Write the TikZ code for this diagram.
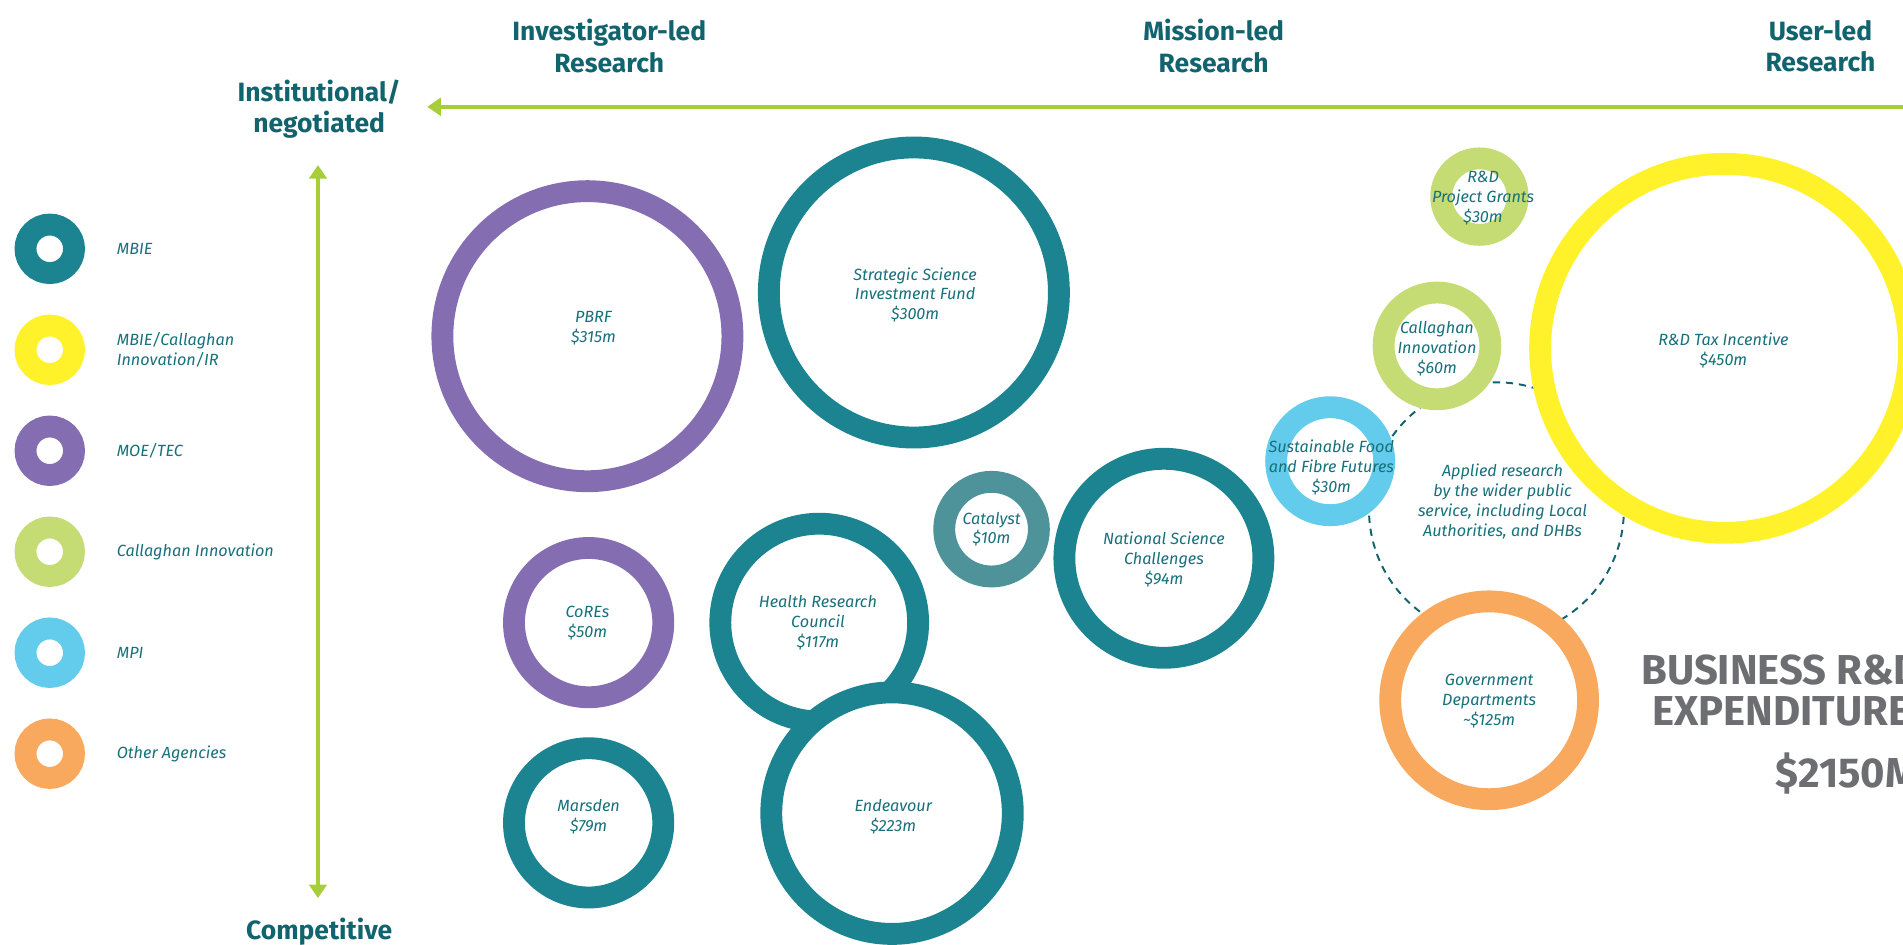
\documentclass[tikz,border=0pt]{standalone}
\usepackage{fontspec}
\setmainfont{Fira Sans}
\usetikzlibrary{arrows.meta}
\usetikzlibrary{positioning}
\definecolor{mbie}{HTML}{1B8490}
\definecolor{catal}{HTML}{4E929A}
\definecolor{mbiecal}{HTML}{FFF22A}
\definecolor{moetec}{HTML}{846EB1}
\definecolor{callag}{HTML}{C5DC75}
\definecolor{mpi}{HTML}{63CBEB}
\definecolor{other}{HTML}{F9A95E}
\definecolor{axisgreen}{HTML}{A7CE3A}
\definecolor{headteal}{HTML}{11636E}
\definecolor{labteal}{HTML}{17707B}
\definecolor{bizgray}{HTML}{6D6E71}
\tikzset {
  % funding ring, #1 = agency colour
  ring/.style = {
    circle,
    draw = #1,
    fill = white,
    line width = 4.5mm,
    inner sep = 0
  },
  % small legend ring
  legring/.style = {
    ring = #1,
    minimum size = 10mm
  },
  % text inside a ring
  fund/.style = {
    font = \fontsize{9.5}{11.7}\selectfont\itshape,
    text = labteal,
    align = center,
    inner sep = 0
  },
  legtext/.style = {
    fund,
    align = left
  },
  % axis headings
  head/.style = {
    font = \fontsize{15.5}{18.5}\selectfont\bfseries,
    text = headteal,
    align = center,
    inner sep = 0
  },
  biz/.style = {
    font = \fontsize{24.5}{24}\selectfont\bfseries,
    text = bizgray,
    align = center,
    inner sep = 0
  },
  axis/.style = {
    draw = axisgreen,
    line width = 0.75mm,
    arrows = {Triangle[width=3.6mm,length=2.8mm]-Triangle[width=3.6mm,length=2.8mm]}
  },
  applied/.style = {
    circle,
    draw = headteal,
    dash pattern = on 1.5mm off 1.2mm,
    line width = 0.4mm,
    inner sep = 0
  },
  node distance = 6.3mm
}
\begin{document}
\begin{tikzpicture}[x=0.25mm, y=-0.25mm]
  \useasboundingbox (0,0) rectangle (1568,778);
  \clip (0,0) rectangle (1568,778);

  % headings
  \node[head] (inv) at (502,38) {Investigator-led\\Research};
  \node[head] (mis) at (1000,38) {Mission-led\\Research};
  \node[head] (usr) at (1500,38) {User-led\\Research};
  \node[head] (inst) at (263,90) {Institutional/\\negotiated};
  \node[head] (comp) at (263,768) {Competitive};

  % axes
  \coordinate (hfrom) at (1590,88);
  \coordinate (hto) at (352,88);
  \coordinate (vtop) at (262,136);
  \coordinate (vbot) at (262,740);
  \draw[axis, arrows = {-Triangle[width=3.6mm,length=2.8mm]}] (hfrom) -- (hto);
  \draw[axis] (vtop) -- (vbot);

  % legend
  \node[legring=mbie] (lmbie) at (41,205) {};
  \node[legring=mbiecal] (lmcal) [below=of lmbie] {};
  \node[legring=moetec] (lmoe) [below=of lmcal] {};
  \node[legring=callag] (lcal) [below=of lmoe] {};
  \node[legring=mpi] (lmpi) [below=of lcal] {};
  \node[legring=other] (loth) [below=of lmpi] {};
  \node[legtext] [right=6.5mm of lmbie] {MBIE};
  \node[legtext] [right=6.5mm of lmcal] {MBIE/Callaghan\\Innovation/IR};
  \node[legtext] [right=6.5mm of lmoe] {MOE/TEC};
  \node[legtext] [right=6.5mm of lcal] {Callaghan Innovation};
  \node[legtext] [right=6.5mm of lmpi] {MPI};
  \node[legtext] [right=6.5mm of loth] {Other Agencies};

  % public service research
  \node[applied, minimum size=52.5mm] (appl) at (1233,420) {};

  % funds
  \node[ring=moetec, minimum size=59.75mm] (pbrf) at (484,277) {};
  \node[ring=mbie, minimum size=59.75mm] (ssif) at (753,241) {};
  \node[ring=callag, minimum size=15.75mm] (rdpg) at (1219,162) {};
  \node[ring=callag, minimum size=22mm] (cinno) at (1184,285) {};
  \node[ring=mbiecal, minimum size=76mm] (rdti) at (1421,287) {};
  \node[ring=mpi, minimum size=22.25mm] (sfff) at (1096,380) {};
  \node[ring=other, minimum size=40.75mm] (govd) at (1227,577) {};
  \node[ring=catal, minimum size=19.5mm] (catl) at (817,436) {};
  \node[ring=mbie, minimum size=41mm] (nsc) at (959,460) {};
  \node[ring=moetec, minimum size=30.75mm] (cores) at (485,513) {};
  \node[ring=mbie, minimum size=40.75mm] (hrc) at (675,513) {};
  \node[ring=mbie, minimum size=49.75mm] (endv) at (735,670) {};
  \node[ring=mbie, minimum size=30.75mm] (mars) at (485,678) {};

  \node[fund] at (489,270) {PBRF\\\$315m};
  \node[fund] at (754,243) {Strategic Science\\Investment Fund\\\$300m};
  \node[fund] at (1222,163) {R\&D\\Project Grants\\\$30m};
  \node[fund] at (1184,287) {Callaghan\\Innovation\\\$60m};
  \node[fund] at (1420,289) {R\&D Tax Incentive\\\$450m};
  \node[fund] at (1097,385) {Sustainable Food\\and Fibre Futures\\\$30m};
  \node[fund] at (1238,413) {Applied research\\by the wider public\\service, including Local\\Authorities, and DHBs};
  \node[fund] at (1227,578) {Government\\Departments\\\textasciitilde\$125m};
  \node[fund] at (817,436) {Catalyst\\\$10m};
  \node[fund] at (959,461) {National Science\\Challenges\\\$94m};
  \node[fund] at (484,513) {CoREs\\\$50m};
  \node[fund] at (674,513) {Health Research\\Council\\\$117m};
  \node[fund] at (736,673) {Endeavour\\\$223m};
  \node[fund] at (485,673) {Marsden\\\$79m};

  % total
  \node[biz, anchor=west] (berd) at (1352,569) {BUSINESS R\&D\\EXPENDITURE};
  \node[biz, anchor=west] (berdval) at (1463,637) {\$2150M};
\end{tikzpicture}
\end{document}
